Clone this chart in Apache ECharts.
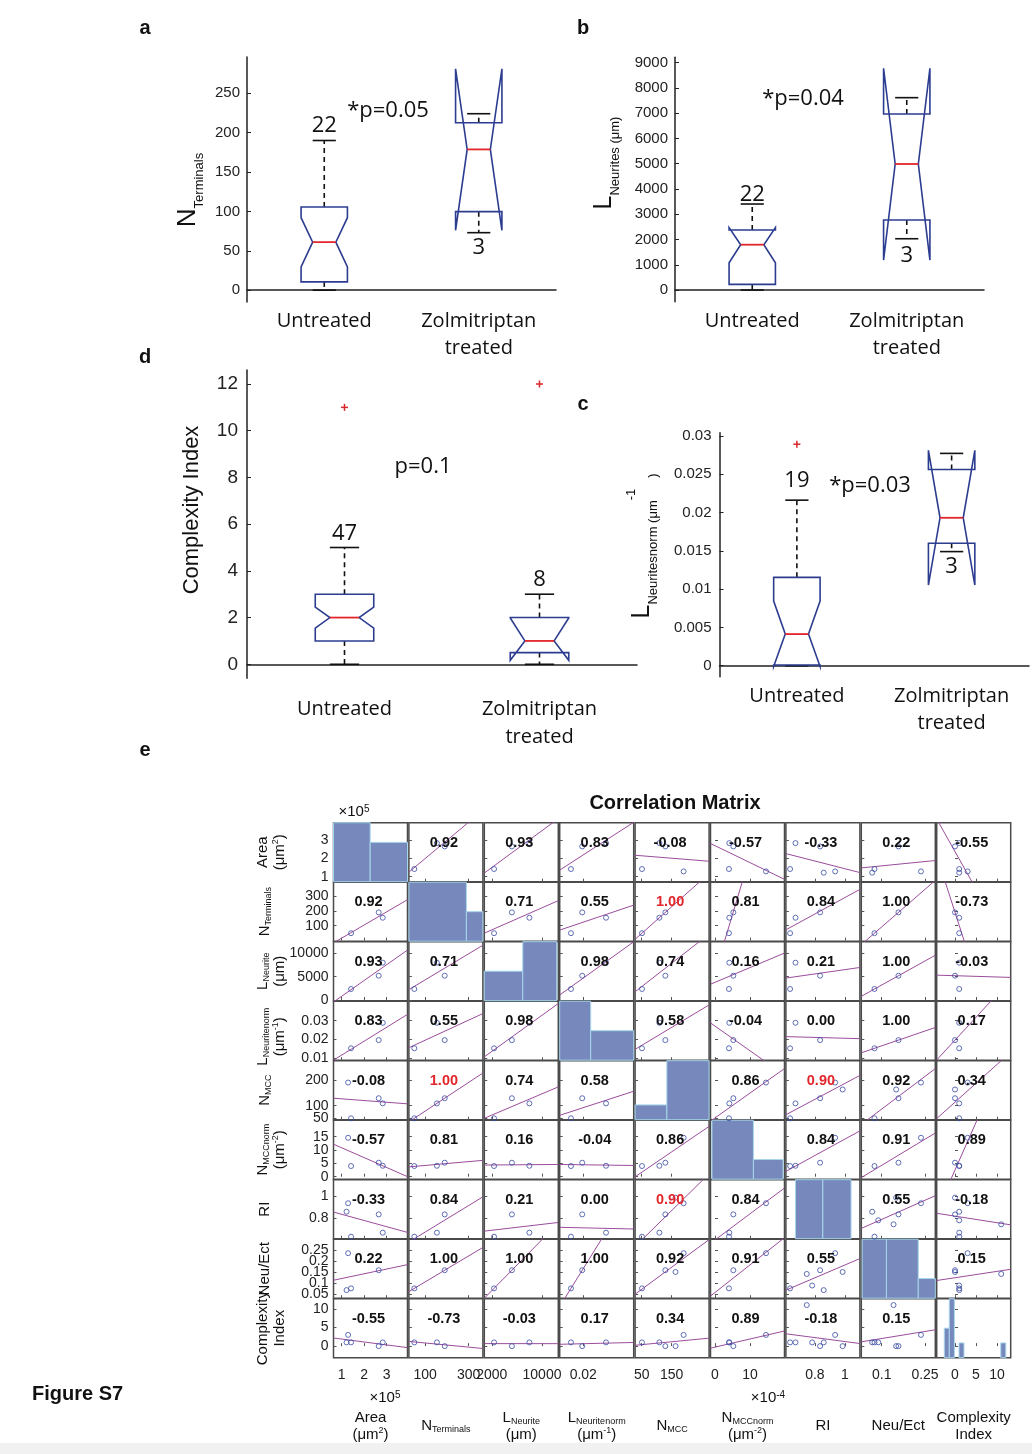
<!DOCTYPE html>
<html><head><meta charset="utf-8">
<script src="https://cdn.jsdelivr.net/npm/echarts@6/dist/echarts.min.js"></script>
<style>html,body{margin:0;padding:0;background:#fff}#c{width:1032px;height:1454px}</style>
</head><body><div id="c"></div>
<script>
// ===== Panels a-d : notched box plots =====
// stats per group: [whiskerLow, q1, notchLow, median, notchHigh, q3, whiskerHigh]
const groups = ['Untreated', 'Zolmitriptan\ntreated'];
const termStats = [[0, 10.5, 29.5, 61, 92, 105.5, 190], [73, 99.7, 76, 178.7, 281, 212.5, 224]];
const termCounts = ['22', '3'];
const termTicks = [0, 50, 100, 150, 200, 250];
const neuriteStats = [[0, 225, 1080, 1795, 2470, 2375, 3405], [2031, 2771, 1188, 4988, 8777, 6968, 7613]];
const neuriteCounts = ['22', '3'];
const neuriteTicks = [0, 1000, 2000, 3000, 4000, 5000, 6000, 7000, 8000, 9000];
const complexStats = [[0, 1, 1.55, 2, 2.45, 3, 5], [0, 0.5, 0.17, 1, 1.98, 2, 3]];
const complexCounts = ['47', '8'];
const complexOutliers = [[0, 11], [1, 12]];
const complexTicks = [0, 2, 4, 6, 8, 10, 12];
const normStats = [[0, 0.0001, -0.0001, 0.00413, 0.00844, 0.01153, 0.0216], [0.01489, 0.01598, 0.01052, 0.0193, 0.0281, 0.0256, 0.0277]];
const normCounts = ['19', '3'];
const normOutliers = [[0, 0.0289]];
const normTicks = [0, 0.005, 0.01, 0.015, 0.02, 0.025, 0.03];
const pTexts = ['*p=0.05', '*p=0.04', 'p=0.1', '*p=0.03'];

// ===== Panel e : correlation matrix, samples per variable =====
const areaS      = [1.29, 1.42, 2.65, 2.83, 1.22, null, null, null];      // x10^5 um^2
const termS      = [null, 50, 190, 154, null, null, null, null];
const neuriteS   = [null, 2355, 5200, 7990, null, null, null, null];
const neuNormS   = [null, 0.0152, 0.0196, 0.0289, null, null, null, null];
const mccS       = [190, 51, 129, 109, null, null, null, 163];
const mccNormS   = [14.6, 4.0, 5.25, 4.1, null, null, null, null];      // x10^-4
const riS        = [0.935, 0.635, 0.835, 0.671, 0.859, 0.782, 0.746, 0.985];
const neuEctS    = [0.236, 0.075, 0.158, null, 0.067, 0.088, 0.141, 0.15];
const ciS        = [3, 1, 0, 1, 1, 1, 11, 0];
const corrValues = [
  [null, 0.92, 0.93, 0.83, -0.08, -0.57, -0.33, 0.22, -0.55],
  [0.92, null, 0.71, 0.55, 1.00, 0.81, 0.84, 1.00, -0.73],
  [0.93, 0.71, null, 0.98, 0.74, 0.16, 0.21, 1.00, -0.03],
  [0.83, 0.55, 0.98, null, 0.58, -0.04, 0.00, 1.00, 0.17],
  [-0.08, 1.00, 0.74, 0.58, null, 0.86, 0.90, 0.92, 0.34],
  [-0.57, 0.81, 0.16, -0.04, 0.86, null, 0.84, 0.91, 0.89],
  [-0.33, 0.84, 0.21, 0.00, 0.90, 0.84, null, 0.55, -0.18],
  [0.22, 1.00, 1.00, 1.00, 0.92, 0.91, 0.55, null, 0.15],
  [-0.55, -0.73, -0.03, 0.17, 0.34, 0.89, -0.18, 0.15, null]
];
const significantPairs = [[1, 4], [4, 6]];
// diagonal histograms: [binStart, binEnd, count]
const areaHist    = [[0.64, 2.27, 3], [2.27, 3.93, 2]];
const termHist    = [[25, 290, 2], [290, 366, 1]];
const neuriteHist = [[800, 6936, 1], [6936, 12364, 2]];
const neuNormHist = [[0.0108, 0.0229, 2], [0.0229, 0.0397, 1]];
const mccHist     = [[28, 134, 1], [134, 275, 4]];
const mccNormHist = [[-0.87, 11.0, 3], [11.0, 19.5, 1]];
const riHist      = [[0.671, 0.853, 4], [0.853, 1.041, 4]];
const neuEctHist  = [[0.032, 0.1164, 3], [0.1164, 0.2266, 3], [0.2266, 0.2856, 1]];
const ciHist      = [[-2.55, -1.36, 2], [-1.36, -0.15, 4], [0.95, 2.14, 1], [10.9, 12.09, 1]];
// tick labels
const colTickSets = [[1, 2, 3], [100, 300], [2000, 10000], [0.02], [50, 150], [0, 10], [0.8, 1], [0.1, 0.25], [0, 5, 10]];
const rowTickSets = [[1, 2, 3], [100, 200, 300], [0, 5000, 10000], [0.01, 0.02, 0.03], [50, 100, 200], [0, 5, 10, 15], [0.8, 1], [0.05, 0.1, 0.15, 0.2, 0.25], [0, 5, 10]];

// ===== build =====
const F = '"Liberation Sans", Arial, Helvetica, sans-serif';
const FO = '"Open Sans", "Liberation Sans", sans-serif';
const BOX = '#2c3d90', MED = '#e2262b';
const grids = [], xAxes = [], yAxes = [], series = [], graphics = [];
const fmt = v => String(v);

function boxRenderer(counts, sides, gaps) {
  return function (params, api) {
    const idx = api.value(0);
    const wl = api.value(1), q1 = api.value(2), nlo = api.value(3), med = api.value(4),
          nhi = api.value(5), q3 = api.value(6), wh = api.value(7);
    const band = api.size([1, 0])[0];
    const w = band * 0.15;
    const cx = api.coord([idx, med])[0];
    const Y = v => api.coord([idx, v])[1];
    const pts = [[cx - w, Y(q1)], [cx - w, Y(nlo)], [cx - w / 2, Y(med)], [cx - w, Y(nhi)], [cx - w, Y(q3)],
                 [cx + w, Y(q3)], [cx + w, Y(nhi)], [cx + w / 2, Y(med)], [cx + w, Y(nlo)], [cx + w, Y(q1)]];
    const dash = {stroke: '#111', lineWidth: 1.6, lineDash: [5, 4]};
    const solid = {stroke: '#111', lineWidth: 1.6};
    const k = params.dataIndex;
    const side = sides[k];
    const children = [
      {type: 'line', shape: {x1: cx, y1: Y(q3), x2: cx, y2: Y(wh)}, style: dash},
      {type: 'line', shape: {x1: cx, y1: Y(q1), x2: cx, y2: Y(wl)}, style: dash},
      {type: 'line', shape: {x1: cx - w / 2, y1: Y(wh), x2: cx + w / 2, y2: Y(wh)}, style: solid},
      {type: 'line', shape: {x1: cx - w / 2, y1: Y(wl), x2: cx + w / 2, y2: Y(wl)}, style: solid},
      {type: 'polygon', shape: {points: pts}, style: {fill: 'none', stroke: BOX, lineWidth: 1.6}},
      {type: 'line', shape: {x1: cx - w / 2, y1: Y(med), x2: cx + w / 2, y2: Y(med)}, style: {stroke: MED, lineWidth: 1.8}},
      {type: 'text', x: cx, y: side === 'top' ? Y(wh) - gaps[k] : Y(wl) + gaps[k],
       style: {text: counts[k], fontFamily: FO, fontSize: 22, fill: '#111', align: 'center',
               verticalAlign: side === 'top' ? 'bottom' : 'top'}}
    ];
    return {type: 'group', children};
  };
}
function plusRenderer(params, api) {
  const c = api.coord([api.value(0), api.value(1)]);
  const s = 3.5, st = {stroke: '#d8262b', lineWidth: 1.5};
  return {type: 'group', children: [
    {type: 'line', shape: {x1: c[0] - s, y1: c[1], x2: c[0] + s, y2: c[1]}, style: st},
    {type: 'line', shape: {x1: c[0], y1: c[1] - s, x2: c[0], y2: c[1] + s}, style: st}]};
}

const boxPanels = [
  {stats: termStats, counts: termCounts, sides: ['top', 'bottom'], gaps: [4, 4], outliers: [], ticks: termTicks,
   min: -15, max: 296, rect: {left: 247, top: 57, width: 309, height: 245}, tickFont: 15, tickMargin: 7, catMargin: 6, catLH: 27},
  {stats: neuriteStats, counts: neuriteCounts, sides: ['top', 'bottom'], gaps: [-2, 6], outliers: [], ticks: neuriteTicks,
   min: -460, max: 9210, rect: {left: 675, top: 57.3, width: 309, height: 244.4}, tickFont: 15, tickMargin: 7, catMargin: 6, catLH: 27},
  {stats: complexStats, counts: complexCounts, sides: ['top', 'top'], gaps: [3, 3], outliers: complexOutliers, ticks: complexTicks,
   min: -0.6, max: 12.6, rect: {left: 247, top: 370, width: 390, height: 308.3}, tickFont: 19, tickMargin: 9, catMargin: 17, catLH: 28},
  {stats: normStats, counts: normCounts, sides: ['top', 'bottom'], gaps: [8, 4], outliers: normOutliers, ticks: normTicks,
   min: -0.00143, max: 0.0304, rect: {left: 719.5, top: 432.7, width: 309.5, height: 244}, tickFont: 15, tickMargin: 8, catMargin: 6, catLH: 27}
];
boxPanels.forEach(p => {
  const gi = grids.length;
  grids.push(Object.assign({containLabel: false}, p.rect));
  const xi = xAxes.length, yi = yAxes.length;
  xAxes.push({gridIndex: gi, type: 'category', data: groups, boundaryGap: true,
    axisLine: {lineStyle: {color: '#222', width: 1.5}},
    axisTick: {inside: true, alignWithLabel: true, length: 4, lineStyle: {color: '#222'}},
    axisLabel: {interval: 0, hideOverlap: false, fontFamily: FO, fontSize: 20, color: '#111', lineHeight: p.catLH, margin: p.catMargin}});
  yAxes.push({gridIndex: gi, type: 'value', min: p.min, max: p.max,
    axisLine: {show: true, lineStyle: {color: '#222', width: 1.5}},
    axisTick: {show: true, inside: true, length: 4, customValues: p.ticks, lineStyle: {color: '#222'}},
    axisLabel: {customValues: p.ticks, hideOverlap: false, fontFamily: F, fontSize: p.tickFont, color: '#222', margin: p.tickMargin, formatter: fmt},
    splitLine: {show: false}});
  series.push({type: 'custom', xAxisIndex: xi, yAxisIndex: yi, clip: false, silent: true, z: 5,
    renderItem: boxRenderer(p.counts, p.sides, p.gaps),
    encode: {x: 0, y: [1, 2, 3, 4, 5, 6, 7]},
    data: p.stats.map((s, k) => [k].concat(s))});
  if (p.outliers.length) {
    series.push({type: 'custom', xAxisIndex: xi, yAxisIndex: yi, clip: false, silent: true, z: 6,
      renderItem: plusRenderer, encode: {x: 0, y: 1}, data: p.outliers});
  }
});

// ----- matrix -----
const samples = [areaS, termS, neuriteS, neuNormS, mccS, mccNormS, riS, neuEctS, ciS];
const hists = [areaHist, termHist, neuriteHist, neuNormHist, mccHist, mccNormHist, riHist, neuEctHist, ciHist];
const colRange = [[0.64, 3.93], [25, 366], [800, 12600], [0.0108, 0.0397], [28, 275], [-1.29, 19.9], [0.607, 1.10], [0.0293, 0.2856], [-4.36, 13.26]];
const rowRange = [[0.73, 3.94], [-4, 393], [-150, 12480], [0.0088, 0.0405], [45.5, 275], [-0.94, 21.2], [0.617, 1.146], [0.03, 0.30], [-3.1, 12.7]];
const MX0 = 333.5, MY0 = 822.7, CW = 74, CH = 59, PX = 75.4, PY = 59.5;

function lsq(xs, ys) {
  const pts = [];
  xs.forEach((x, k) => { if (x != null && ys[k] != null) pts.push([x, ys[k]]); });
  const n = pts.length;
  const mx = pts.reduce((s, p) => s + p[0], 0) / n, my = pts.reduce((s, p) => s + p[1], 0) / n;
  let sxx = 0, sxy = 0;
  pts.forEach(p => { sxx += (p[0] - mx) * (p[0] - mx); sxy += (p[0] - mx) * (p[1] - my); });
  const b = sxx ? sxy / sxx : 0;
  return {pts, a: my - b * mx, b};
}
function histRenderer(params, api) {
  const p0 = api.coord([api.value(0), 0]);
  const p1 = api.coord([api.value(1), api.value(2)]);
  return {type: 'rect', shape: {x: p0[0], y: p1[1], width: p1[0] - p0[0], height: p0[1] - p1[1]},
    style: {fill: '#7788bd', stroke: '#a6d6ea', lineWidth: 1}};
}
const isSig = (i, j) => significantPairs.some(s => (s[0] === i && s[1] === j) || (s[0] === j && s[1] === i));
const labelAxisBase = {position: 'left', offset: 0, axisLine: {show: false}, axisTick: {show: false}, splitLine: {show: false}};

for (let i = 0; i < 9; i++) {
  for (let j = 0; j < 9; j++) {
    const gi = grids.length;
    const left = MX0 + j * PX, top = MY0 + i * PY;
    grids.push({left, top, width: CW, height: CH, show: true, borderColor: '#4a4a4a', borderWidth: 1.5, backgroundColor: '#fff'});
    const xi = xAxes.length, yi = yAxes.length;
    xAxes.push({gridIndex: gi, type: 'value', position: 'bottom', min: colRange[j][0], max: colRange[j][1],
      axisLine: {show: false}, splitLine: {show: false},
      axisTick: {show: true, inside: true, length: 3, customValues: colTickSets[j], lineStyle: {color: '#555'}},
      axisLabel: {show: i === 8, interval: 0, customValues: colTickSets[j], hideOverlap: false, showMinLabel: true, showMaxLabel: true,
        fontFamily: F, fontSize: 14, color: '#222', margin: 10, formatter: fmt}});
    yAxes.push({gridIndex: gi, type: 'value', position: 'left', offset: 0, min: rowRange[i][0], max: rowRange[i][1],
      axisLine: {show: false}, splitLine: {show: false},
      axisTick: {show: true, inside: true, length: 3, customValues: rowTickSets[i], lineStyle: {color: '#555'}},
      axisLabel: {show: false}});
    if (j === 0) {
      // two label-only axes (alternating tick labels) so that closely packed labels all stay visible
      [0, 1].forEach(parity => {
        const vals = rowTickSets[i].filter((v, k) => k % 2 === parity);
        if (!vals.length) return;
        yAxes.push(Object.assign({gridIndex: gi, type: 'value', min: rowRange[i][0], max: rowRange[i][1],
          axisLabel: {show: true, interval: 0, customValues: vals, hideOverlap: false, showMinLabel: true, showMaxLabel: true,
            fontFamily: F, fontSize: 14, color: '#222', margin: 5, formatter: fmt}}, labelAxisBase));
      });
    }
    if (i === j) {
      const hy = yAxes.length;
      const maxC = Math.max.apply(null, hists[i].map(h => h[2]));
      yAxes.push({gridIndex: gi, type: 'value', position: 'left', offset: 0, min: 0, max: maxC, show: false});
      series.push({type: 'custom', xAxisIndex: xi, yAxisIndex: hy, silent: true, z: 2,
        renderItem: histRenderer, encode: {x: [0, 1], y: 2}, data: hists[i]});
    } else {
      const fit = lsq(samples[j], samples[i]);
      const lo = colRange[j][0], hi = colRange[j][1];
      series.push({type: 'line', xAxisIndex: xi, yAxisIndex: yi, silent: true, z: 2, clip: true, symbol: 'none',
        lineStyle: {color: '#9a4c9c', width: 1}, data: [[lo, fit.a + fit.b * lo], [hi, fit.a + fit.b * hi]]});
      series.push({type: 'scatter', xAxisIndex: xi, yAxisIndex: yi, silent: true, z: 3, symbol: 'circle', symbolSize: 5,
        itemStyle: {color: 'rgba(0,0,0,0)', borderColor: '#3a4ca3', borderWidth: 1}, data: fit.pts});
      graphics.push({type: 'text', x: left + CW / 2 - 2, y: top + 20, z: 100,
        style: {text: corrValues[i][j].toFixed(2), fontFamily: F, fontWeight: 'bold', fontSize: 14.5,
          fill: isSig(i, j) ? '#e2262b' : '#111', align: 'center', verticalAlign: 'middle'}});
    }
  }
}

// ----- text annotations -----
const T = (x, y, text, size, weight, extra) => graphics.push(Object.assign({type: 'text', x, y, z: 100,
  style: {text, fontFamily: F, fontSize: size, fontWeight: weight || 'normal', fill: '#111', align: 'center', verticalAlign: 'middle'}}, extra || {}));
T(145, 28, 'a', 20, 'bold'); T(583, 28, 'b', 20, 'bold'); T(145, 357, 'd', 20, 'bold');
T(583, 404, 'c', 20, 'bold'); T(145, 750, 'e', 20, 'bold');
graphics.push({type: 'text', x: 32, y: 1394, z: 100, style: {text: 'Figure S7', fontFamily: F, fontSize: 20, fontWeight: 'bold', fill: '#111', align: 'left', verticalAlign: 'middle'}});
const PT = (x, y, t) => graphics.push({type: 'text', x, y, z: 100, style: {text: t, fontFamily: FO, fontSize: 22, fill: '#111', align: 'center', verticalAlign: 'middle'}});
PT(388, 111, pTexts[0]); PT(803, 99, pTexts[1]); PT(423, 467, pTexts[2]); PT(870, 486, pTexts[3]);
graphics.push({type: 'text', x: 675, y: 803, z: 100, style: {text: 'Correlation Matrix', fontFamily: F, fontSize: 20, fontWeight: 'bold', fill: '#111', align: 'center', verticalAlign: 'middle'}});

const rot = Math.PI / 2;
const bigRich = (nSize, sSize) => ({
  n: {fontFamily: F, fontSize: nSize, lineHeight: nSize + 10, fill: '#111'},
  s: {fontFamily: F, fontSize: sSize, lineHeight: sSize, verticalAlign: 'bottom', fill: '#111'},
  p: {fontFamily: F, fontSize: sSize, lineHeight: sSize, verticalAlign: 'top', fill: '#111'}
});
graphics.push({type: 'text', x: 188, y: 190, rotation: rot, z: 100,
  style: {text: '{n|N}{s|Terminals}', rich: bigRich(26, 13), align: 'center', verticalAlign: 'middle'}});
graphics.push({type: 'text', x: 604, y: 163, rotation: rot, z: 100,
  style: {text: '{n|L}{s|Neurites (μm)}', rich: bigRich(25, 13), align: 'center', verticalAlign: 'middle'}});
graphics.push({type: 'text', x: 642, y: 546, rotation: rot, z: 100,
  style: {text: '{n|L}{s|Neuritesnorm (μm}{p|-1}{s|   )}', rich: bigRich(25, 13), align: 'center', verticalAlign: 'middle'}});
graphics.push({type: 'text', x: 192, y: 510, rotation: rot, z: 100,
  style: {text: 'Complexity Index', fontFamily: F, fontSize: 22, fill: '#111', align: 'center', verticalAlign: 'middle'}});

const smRich = {
  m: {fontFamily: F, fontSize: 15, lineHeight: 17, fill: '#111'},
  s: {fontFamily: F, fontSize: 9, lineHeight: 9, verticalAlign: 'bottom', fill: '#111'},
  p: {fontFamily: F, fontSize: 9, lineHeight: 9, verticalAlign: 'top', fill: '#111'}
};
const varLabels = [
  '{m|Area}\n{m|(μm}{p|2}{m|)}',
  '{m|N}{s|Terminals}',
  '{m|L}{s|Neurite}\n{m|(μm)}',
  '{m|L}{s|Neuritenorm}\n{m|(μm}{p|-1}{m|)}',
  '{m|N}{s|MCC}',
  '{m|N}{s|MCCnorm}\n{m|(μm}{p|-2}{m|)}',
  '{m|RI}',
  '{m|Neu/Ect}',
  '{m|Complexity}\n{m|Index}'
];
varLabels.forEach((lab, k) => {
  const two = lab.indexOf('\n') >= 0;
  graphics.push({type: 'text', x: two ? 271 : 265, y: MY0 + k * PY + CH / 2 + (k === 3 ? 6 : 0), rotation: rot, z: 100,
    style: {text: lab, rich: smRich, align: 'center', verticalAlign: 'middle'}});
  graphics.push({type: 'text', x: MX0 + k * PX + CW / 2, y: 1426, z: 100,
    style: {text: lab, rich: smRich, align: 'center', verticalAlign: 'middle'}});
});
const expRich = {m: {fontFamily: F, fontSize: 15, fill: '#111'}, p: {fontFamily: F, fontSize: 10, verticalAlign: 'top', lineHeight: 10, fill: '#111'}};
graphics.push({type: 'text', x: 354, y: 812, z: 100, style: {text: '{m|×10}{p|5}', rich: expRich, align: 'center', verticalAlign: 'middle'}});
graphics.push({type: 'text', x: 385, y: 1398, z: 100, style: {text: '{m|×10}{p|5}', rich: expRich, align: 'center', verticalAlign: 'middle'}});
graphics.push({type: 'text', x: 768, y: 1398, z: 100, style: {text: '{m|×10}{p|-4}', rich: expRich, align: 'center', verticalAlign: 'middle'}});
graphics.push({type: 'rect', shape: {x: 0, y: 1443, width: 1032, height: 11}, style: {fill: '#f1f1f1'}, z: -10});

const chart = echarts.init(document.getElementById('c'));
chart.setOption({animation: false, backgroundColor: '#fff', grid: grids, xAxis: xAxes, yAxis: yAxes, series, graphic: {elements: graphics}});
</script></body></html>
